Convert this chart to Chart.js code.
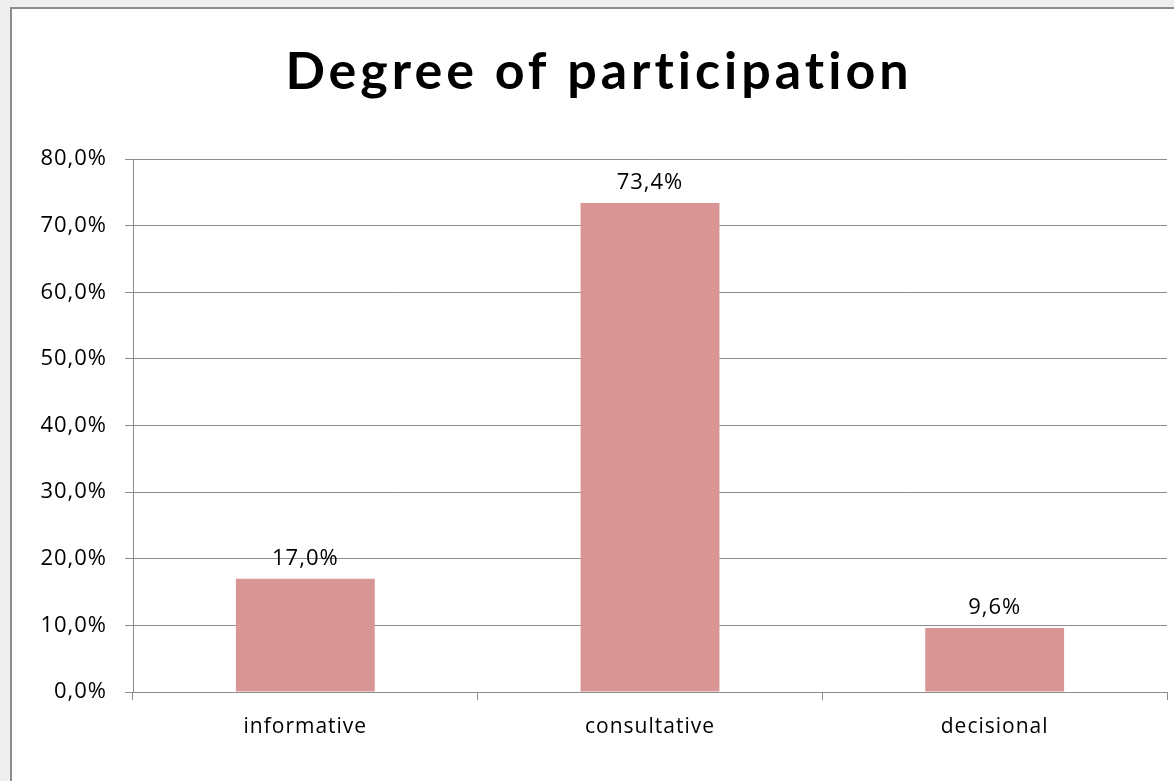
<!DOCTYPE html>
<html>
<head>
<meta charset="utf-8">
<script src="https://cdn.jsdelivr.net/npm/chart.js@4.4.1/dist/chart.umd.min.js"></script>
<style>
  html, body { margin: 0; padding: 0; background: #efefef; overflow: hidden; }
  #box {
    position: absolute; left: 10px; top: 7px;
    width: 1162px; height: 772px;
    border-left: 2px solid #8c8c8c; border-top: 2px solid #8c8c8c;
    background: #fff;
  }
</style>
</head>
<body>
<div id="box"><canvas id="participationChart" width="1162" height="772"></canvas></div>
<script>
const chartTitle = 'Degree of participation';
const categories = ['informative', 'consultative', 'decisional'];
const shares = [17.0, 73.4, 9.6];
const yTicks = [0, 10, 20, 30, 40, 50, 60, 70, 80];

const pct = v => v.toFixed(1).replace('.', ',') + '%';

// titre avec espacement des lettres + etiquettes au-dessus des barres
const labelsPlugin = {
  id: 'labelsPlugin',
  beforeDraw(chart) {
    chart.ctx.letterSpacing = '1px';
  },
  afterDraw(chart) {
    const ctx = chart.ctx;
    ctx.save();
    ctx.fillStyle = '#000';
    ctx.textAlign = 'center';
    ctx.textBaseline = 'middle';
    ctx.font = 'bold 52px Lato';
    ctx.letterSpacing = '4px';
    ctx.fillText(chartTitle, chart.width / 2 + 6, 63);
    ctx.letterSpacing = '1px';
    ctx.font = '22px "Open Sans"';
    ctx.textBaseline = 'bottom';
    const meta = chart.getDatasetMeta(0);
    meta.data.forEach((bar, i) => {
      ctx.fillText(pct(shares[i]), bar.x, bar.y - 9);
    });
    ctx.restore();
  }
};

const canvas = document.getElementById('participationChart');
if (canvas) {
  const ctx = canvas.getContext('2d');
  new Chart(ctx, {
    type: 'bar',
    data: {
      labels: categories,
      datasets: [{
        label: chartTitle,
        data: shares,
        backgroundColor: '#d99694',
        borderWidth: 0,
        categoryPercentage: 0.403,
        barPercentage: 1
      }]
    },
    options: {
      responsive: false,
      animation: false,
      layout: { padding: { top: 150, right: 7, left: 0, bottom: 0 } },
      plugins: {
        legend: { display: false },
        tooltip: { enabled: false },
        title: { display: false }
      },
      scales: {
        x: {
          grid: {
            offset: true,
            drawOnChartArea: false,
            color: '#8c8c8c',
            tickLength: 8
          },
          border: { color: '#8c8c8c' },
          ticks: { color: '#000', font: { family: 'Open Sans', size: 21 }, padding: 14 },
          afterFit: s => { s.height = 89; }
        },
        y: {
          min: 0,
          max: 80,
          afterBuildTicks: s => { s.ticks = yTicks.map(v => ({ value: v })); },
          grid: { color: '#8c8c8c', tickLength: 8 },
          border: { color: '#8c8c8c' },
          ticks: {
            color: '#000',
            font: { family: 'Open Sans', size: 22 },
            padding: 18,
            callback: v => pct(v)
          },
          afterFit: s => { s.width = 121; }
        }
      }
    },
    plugins: [labelsPlugin]
  });
}
</script>
</body>
</html>
